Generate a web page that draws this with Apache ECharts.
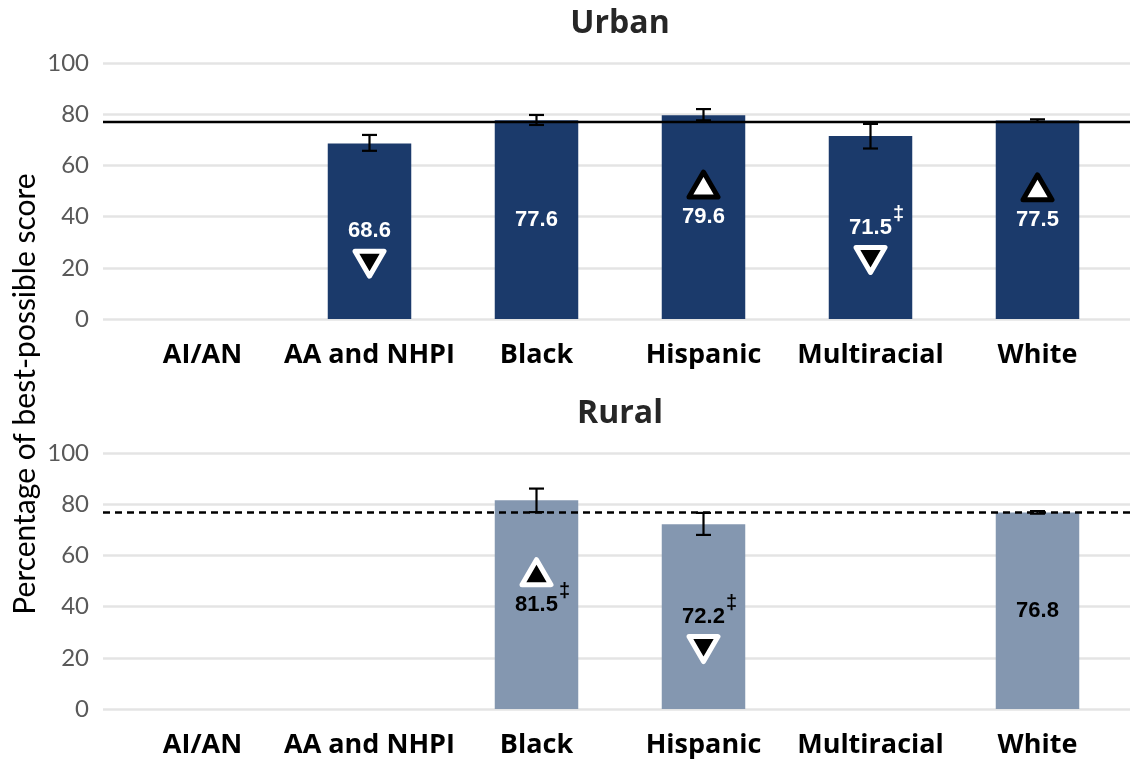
<!DOCTYPE html>
<html><head><meta charset="utf-8">
<script src="https://cdn.jsdelivr.net/npm/echarts@6/dist/echarts.min.js"></script>
<style>html,body{margin:0;padding:0;background:#fff}#c{width:1130px;height:762px}</style>
</head><body><div id="c"></div>
<script>
// ---- data ----
const categories = ['AI/AN', 'AA and NHPI', 'Black', 'Hispanic', 'Multiracial', 'White'];
const yTicks = [0, 20, 40, 60, 80, 100];
const panelTitles = ['Urban', 'Rural'];
const yAxisTitle = 'Percentage of best-possible score';

const urbanValues  = [null, 68.6, 77.6, 79.6, 71.5, 77.5];
const urbanErrLow  = [null, 65.7, 75.8, 77.6, 66.6, 77.0];
const urbanErrHigh = [null, 71.9, 79.7, 82.0, 76.2, 78.0];
const urbanMarkers = [null, 'down', null, 'upOpen', 'down', 'upOpen'];
const urbanDagger  = [false, false, false, false, true, false];
const urbanReference = 77.0;

const ruralValues  = [null, null, 81.5, 72.2, null, 76.8];
const ruralErrLow  = [null, null, 76.9, 68.0, null, 76.3];
const ruralErrHigh = [null, null, 86.1, 76.6, null, 77.3];
const ruralMarkers = [null, null, 'up', 'down', null, null];
const ruralDagger  = [false, false, true, true, false, false];
const ruralReference = 76.8;

// ---- layout / style ----
const PANEL_TOP = [63, 453];
const PANEL_H = 256;
const BG_LEFT = 103;
const BAR_LEFT = 119, BAR_W = 1002;
const COLORS = ['#1B3A6B', '#8497B0'];
const LABEL_COLORS = ['#ffffff', '#000000'];
const REF_TYPES = ['solid', [7, 5]];
const MAX = yTicks[yTicks.length - 1], MIN = yTicks[0];
const INTERVAL = yTicks[1] - yTicks[0];

const panels = [
  {values: urbanValues, lo: urbanErrLow, hi: urbanErrHigh, markers: urbanMarkers, dagger: urbanDagger, ref: urbanReference},
  {values: ruralValues, lo: ruralErrLow, hi: ruralErrHigh, markers: ruralMarkers, dagger: ruralDagger, ref: ruralReference}
];

const grids = [], xAxes = [], yAxes = [], series = [];
panels.forEach((p, k) => {
  const bgIdx = k * 2, barIdx = k * 2 + 1;
  grids.push({left: BG_LEFT, right: 0, top: PANEL_TOP[k], height: PANEL_H});
  grids.push({left: BAR_LEFT, width: BAR_W, top: PANEL_TOP[k], height: PANEL_H});
  xAxes.push({type: 'value', gridIndex: bgIdx, min: 0, max: 1, show: false});
  xAxes.push({
    type: 'category', gridIndex: barIdx, data: categories,
    axisLine: {show: false}, axisTick: {show: false},
    axisLabel: {fontFamily: 'Open Sans', fontWeight: 'bold', fontSize: 27, color: '#000', margin: 23, interval: 0}
  });
  yAxes.push({
    type: 'value', gridIndex: bgIdx, min: MIN, max: MAX, interval: INTERVAL,
    axisLine: {show: false}, axisTick: {show: false},
    axisLabel: {fontFamily: 'Lato', fontSize: 24, color: '#595959', margin: 14},
    splitLine: {lineStyle: {color: '#e4e4e4', width: 2.5}}
  });
  yAxes.push({type: 'value', gridIndex: barIdx, min: MIN, max: MAX, interval: INTERVAL, show: false, splitLine: {show: false}});

  // bars
  series.push({
    type: 'bar', xAxisIndex: barIdx, yAxisIndex: barIdx, data: p.values, barWidth: '50%',
    itemStyle: {color: COLORS[k]}, z: 2,
    label: {show: true, position: 'inside', formatter: d => d.value.toFixed(1),
      fontFamily: 'Liberation Sans', fontWeight: 'bold', fontSize: 22, color: LABEL_COLORS[k]}
  });
  // reference line
  series.push({
    type: 'line', xAxisIndex: bgIdx, yAxisIndex: bgIdx, data: [[0, p.ref], [1, p.ref]],
    symbol: 'none', silent: true, z: 5,
    lineStyle: {color: '#000', width: 2.5, type: REF_TYPES[k]}
  });
  // error bars
  const errData = [];
  p.values.forEach((v, i) => { if (v != null) errData.push([i, p.lo[i], p.hi[i]]); });
  series.push({
    type: 'custom', xAxisIndex: barIdx, yAxisIndex: barIdx, data: errData, z: 6,
    encode: {x: 0, y: [1, 2]},
    renderItem: (params, api) => {
      const i = api.value(0);
      const a = api.coord([i, api.value(1)]), b = api.coord([i, api.value(2)]);
      const cw = 7.5, st = {stroke: '#000', lineWidth: 2.2};
      return {type: 'group', children: [
        {type: 'line', shape: {x1: a[0], y1: a[1], x2: b[0], y2: b[1]}, style: st},
        {type: 'line', shape: {x1: a[0] - cw, y1: a[1], x2: a[0] + cw, y2: a[1]}, style: st},
        {type: 'line', shape: {x1: b[0] - cw, y1: b[1], x2: b[0] + cw, y2: b[1]}, style: st}
      ]};
    }
  });
  // significance markers and daggers
  const mData = [];
  p.values.forEach((v, i) => { if (v != null && (p.markers[i] || p.dagger[i])) mData.push([i, v]); });
  series.push({
    type: 'custom', xAxisIndex: barIdx, yAxisIndex: barIdx, data: mData, z: 7,
    encode: {x: 0, y: 1},
    renderItem: (params, api) => {
      const i = api.value(0), v = api.value(1);
      const c = api.coord([i, v / 2]);
      const children = [];
      const m = p.markers[i];
      if (m) {
        const up = m !== 'down';
        const cy = c[1] + (up ? -32.5 : 32.5);
        const hw = 14.5, hh = 12.5;
        const pts = up ? [[c[0], cy - hh], [c[0] + hw, cy + hh], [c[0] - hw, cy + hh]]
                       : [[c[0], cy + hh], [c[0] + hw, cy - hh], [c[0] - hw, cy - hh]];
        const open = m === 'upOpen';
        children.push({type: 'polygon', shape: {points: pts},
          style: {fill: open ? '#fff' : '#000', stroke: open ? '#000' : '#fff', lineWidth: 5, lineJoin: 'round'}});
      }
      if (p.dagger[i]) {
        children.push({type: 'text', x: c[0] + 28, y: c[1] - 13,
          style: {text: '‡', fill: LABEL_COLORS[k], fontFamily: 'Liberation Sans', fontWeight: 'bold', fontSize: 20,
            align: 'center', verticalAlign: 'middle'}});
      }
      return {type: 'group', children};
    }
  });
});

const graphics = [];
panelTitles.forEach((t, k) => {
  graphics.push({type: 'text', x: BAR_LEFT + BAR_W / 2, y: PANEL_TOP[k] - 39,
    style: {text: t, fontFamily: 'Open Sans', fontWeight: 'bold', fontSize: 32, fill: '#262626', align: 'center', verticalAlign: 'middle'}});
});
graphics.push({type: 'text', x: 25, y: 394, rotation: Math.PI / 2,
  style: {text: yAxisTitle, fontFamily: 'Lato', fontSize: 30, fill: '#000', align: 'center', verticalAlign: 'middle'}});

const chart = echarts.init(document.getElementById('c'));
chart.setOption({
  animation: false,
  grid: grids, xAxis: xAxes, yAxis: yAxes, series: series, graphic: graphics
});
</script></body></html>
